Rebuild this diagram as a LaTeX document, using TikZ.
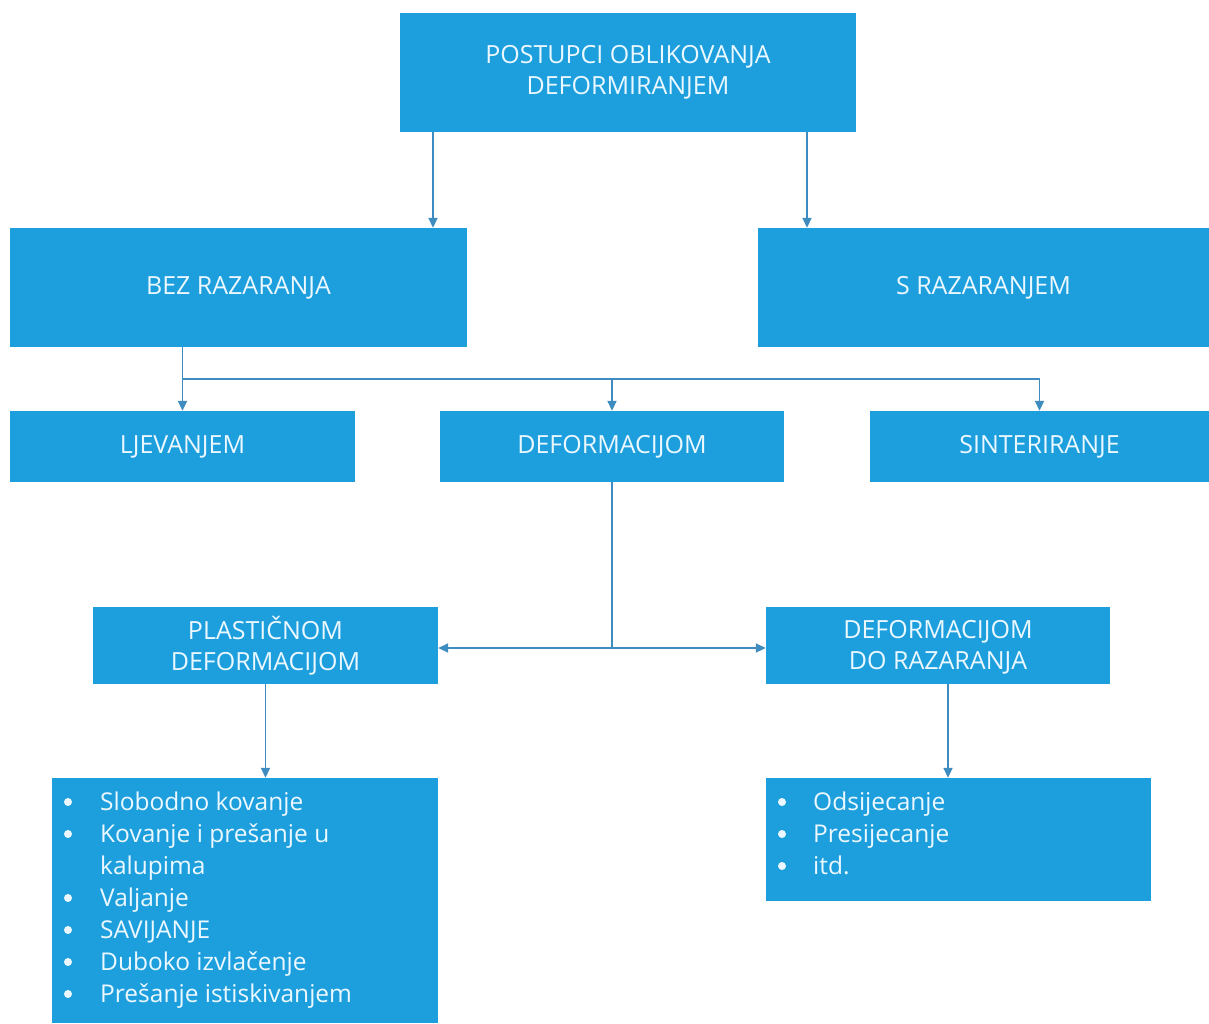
\documentclass[tikz,border=0pt]{standalone}
\usepackage{fontspec}
\setmainfont{Open Sans}
\usetikzlibrary{arrows.meta}
\definecolor{boxblue}{RGB}{29,159,222}
\definecolor{linecol}{RGB}{62,140,192}
\definecolor{txt}{RGB}{236,248,255}
\begin{document}
\begin{tikzpicture}[x=1pt,y=-1pt,
  box/.style={fill=boxblue, draw=none, inner sep=0pt, text=txt, font=\fontsize{25}{31}\selectfont, align=center},
  conn/.style={draw=linecol, line width=1.8pt},
  arr/.style={conn, -{Triangle[length=10pt,width=9pt]}},
  item/.style={text=txt, font=\fontsize{24.5}{32}\selectfont, inner sep=0pt, anchor=base west},
  dot/.style={fill=txt}]
\useasboundingbox (0,0) rectangle (1209,1023);
% boxes
\node[box, minimum width=456pt, minimum height=119pt] (top) at (628,72.5) {POSTUPCI OBLIKOVANJA\\DEFORMIRANJEM};
\node[box, minimum width=457pt, minimum height=119pt] (bez) at (238.5,287.5) {BEZ RAZARANJA};
\node[box, minimum width=451pt, minimum height=119pt] (srz) at (983.5,287.5) {S RAZARANJEM};
\node[box, minimum width=345pt, minimum height=71pt] (ljev) at (182.5,446.5) {LJEVANJEM};
\node[box, minimum width=344pt, minimum height=71pt] (def) at (612,446.5) {DEFORMACIJOM};
\node[box, minimum width=339pt, minimum height=71pt] (sint) at (1039.5,446.5) {SINTERIRANJE};
\node[box, minimum width=345pt, minimum height=77pt] (plast) at (265.5,645.5) {PLASTIČNOM\\DEFORMACIJOM};
\node[box, minimum width=344pt, minimum height=77pt] (ddr) at (938,645.5) {\strut DEFORMACIJOM\\DO RAZARANJA};
\node[box, minimum width=386pt, minimum height=245pt] (llist) at (245,900.5) {};
\node[box, minimum width=385pt, minimum height=123pt] (rlist) at (958.5,839.5) {};
% left list
\node[item] (l1) at (100,810) {Slobodno kovanje};
\node[item] (l2) at (100,842) {Kovanje i prešanje u};
\node[item] (l3) at (100,874) {kalupima};
\node[item] (l4) at (100,906) {Valjanje};
\node[item] (l5) at (100,938) {SAVIJANJE};
\node[item] (l6) at (100,970) {Duboko izvlačenje};
\node[item] (l7) at (100,1002) {Prešanje istiskivanjem};
\foreach \yy in {802,834,898,930,962,994} \fill[dot] (68,\yy) circle (4pt);
% right list
\node[item] (r1) at (813,810) {Odsijecanje};
\node[item] (r2) at (813,842) {Presijecanje};
\node[item] (r3) at (813,874) {itd.};
\foreach \yy in {802,834,866} \fill[dot] (782,\yy) circle (4pt);
% connectors
\coordinate (a1) at (433,0);
\coordinate (a2) at (807,0);
\coordinate (h) at (0,379);
\coordinate (m) at (0,648);
\coordinate (a3) at (948,0);
\draw[arr] (top.south -| a1) -- (bez.north -| a1);
\draw[arr] (top.south -| a2) -- (srz.north -| a2);
\draw[arr] (bez.south -| ljev.north) -- (ljev.north);
\draw[conn] (h -| ljev.north) -- (h -| sint.north);
\draw[arr] (h -| def.north) -- (def.north);
\draw[arr] (h -| sint.north) -- (sint.north);
\draw[conn] (def.south) -- (m -| def.south);
\draw[arr] (m -| def.south) -- (m -| plast.east);
\draw[arr] (m -| def.south) -- (m -| ddr.west);
\draw[arr] (plast.south) -- (llist.north -| plast.south);
\draw[arr] (ddr.south -| a3) -- (rlist.north -| a3);
\end{tikzpicture}
\end{document}
